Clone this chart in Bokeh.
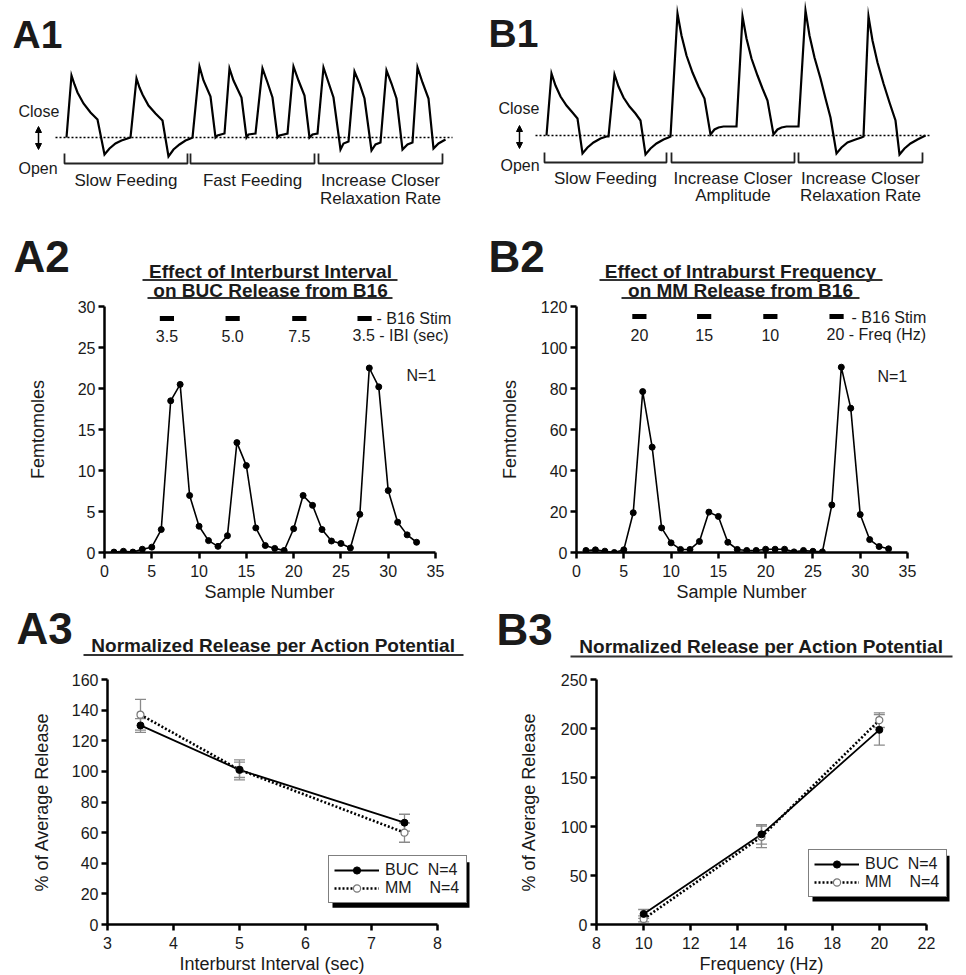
from bokeh.plotting import figure
from bokeh.layouts import column, row
from bokeh.models import (Range1d, FixedTicker, Legend, LegendItem, BoxAnnotation,
                          Label, Arrow, NormalHead, Title)
from bokeh.core.properties import value
from bokeh.embed import file_html
from bokeh.resources import INLINE

FONT = "Liberation Sans"
INK = "#1a1a1a"
GREY = "#8a8a8a"

# ---------------- data ----------------
# A1: schematic closer trace (slow feeding, fast feeding, faster closer relaxation)
# time in arbitrary units, amplitude above the resting (dotted) baseline
a1_time = [66, 71, 74, 77, 83, 90, 97, 104, 109, 115, 121, 127, 130,
           136, 139, 142, 148, 155, 162, 168, 173, 179, 185, 190, 192,
           199, 203, 210, 215, 217, 224,
           229, 233, 241, 246, 248, 255,
           262, 267, 272, 277, 279, 287,
           293, 298, 304, 309, 312, 317,
           323, 328, 333, 340, 343, 348,
           354, 359, 364, 371, 375, 380,
           386, 391, 396, 402, 407, 412,
           417, 422, 428, 433, 438, 445]
a1_amp = [0, 62, 53, 45, 34, 25, 18, -17, -11, -6, -3, -1, 0,
          59, 50, 43, 32, 24, 17, -19, -12, -7, -3, -1, 0,
          71, 57, 41, 0, 2, 4,
          69, 57, 40, 0, 3, 4,
          69, 55, 40, 0, 2, 4,
          71, 57, 42, 0, 3, 4,
          70, 55, 40, -12, -6, -4,
          66, 54, 39, -13, -7, -5,
          67, 54, 39, -12, -7, -5,
          70, 55, 39, -11, -6, -2]

# B1: schematic closer trace (slow feeding, larger closer amplitude, faster relaxation)
b1_time = [63, 68, 72, 77, 83, 89, 94, 99, 104, 110, 117, 123, 125,
           131, 135, 140, 146, 152, 157, 162, 167, 173, 180, 185, 187,
           194, 198, 203, 209, 215, 221, 227, 231, 235, 240, 253,
           259, 263, 268, 274, 279, 284, 290, 294, 298, 303, 315,
           322, 326, 331, 337, 342, 347, 353, 358, 364, 372, 378, 380,
           385, 389, 394, 400, 406, 412, 416, 421, 427, 434, 442]
b1_amp = [0, 62, 50, 39, 30, 23, 17, -18, -12, -7, -3, -1, -1,
          61, 49, 38, 29, 22, 15, -19, -13, -8, -4, -2, -1,
          122, 100, 80, 63, 49, 37, 1, 6, 8, 9, 9,
          119, 97, 77, 60, 47, 35, 1, 6, 8, 9, 9,
          125, 100, 78, 57, 37, 18, -18, -12, -7, -4, -2, -1,
          119, 95, 73, 52, 33, 15, -19, -13, -8, -4, 0]

a1_phases = ["Slow Feeding", "Fast Feeding", "Increase Closer|Relaxation Rate"]
b1_phases = ["Slow Feeding", "Increase Closer|Amplitude", "Increase Closer|Relaxation Rate"]

# A2 / B2: release per sample (femtomoles)
sample_no = list(range(1, 34))
buc_fmol = [0.05, 0.15, 0.05, 0.4, 0.65, 2.8, 18.5, 20.5, 6.95, 3.2, 1.45,
            0.75, 2.05, 13.4, 10.6, 3.0, 0.85, 0.5, 0.25, 2.9, 6.95, 5.75,
            2.8, 1.4, 1.1, 0.55, 4.65, 22.5, 20.2, 7.55, 3.7, 2.15, 1.25]
mm_fmol = [1.0, 1.3, 0.65, 0.0, 1.3, 19.4, 78.5, 51.4, 12.0, 4.7, 1.5,
           1.5, 5.4, 19.7, 17.6, 5.0, 1.5, 1.0, 1.0, 1.6, 1.6, 1.6,
           0.3, 1.0, 0.6, 0.3, 23.2, 90.4, 70.4, 18.5, 6.3, 2.9, 1.8]
a2_stim_sample = [6.6, 13.55, 20.6, 27.5]
a2_ibi_labels = ["3.5", "5.0", "7.5", "3.5"]
b2_stim_sample = [6.65, 13.5, 20.5, 27.5]
b2_freq_labels = ["20", "15", "10", "20"]
stim_duration = 1.5

# A3 / B3: normalized release (% of average), mean and s.e.m.
ibi_sec = [3.5, 5.0, 7.5]
buc_ibi = [130, 101, 66.5]
buc_ibi_err = [4.5, 5, 5.5]
mm_ibi = [137, 101, 60]
mm_ibi_err = [10, 6.5, 6.3]

freq_hz = [10, 15, 20]
buc_freq = [10.8, 92, 198.6]
buc_freq_err = [4.5, 10, 15.5]
mm_freq = [5.7, 89.5, 208.5]
mm_freq_err = [3, 11, 7.5]

a2_xticks = [0, 5, 10, 15, 20, 25, 30, 35]
a2_yticks = [0, 5, 10, 15, 20, 25, 30]
b2_yticks = [0, 20, 40, 60, 80, 100, 120]
a3_xticks = [3, 4, 5, 6, 7, 8]
a3_yticks = [0, 20, 40, 60, 80, 100, 120, 140, 160]
b3_xticks = [8, 10, 12, 14, 16, 18, 20, 22]
b3_yticks = [0, 50, 100, 150, 200, 250]


# ---------------- helpers ----------------
# text y positions below are given at the middle of the capitals
def txt(p, x, y, s, size, bold=False, align="left", color=INK):
    p.text(x=[x], y=[y], text=[s], text_font=value(FONT),
           text_font_size=f"{size}px", text_font_style="bold" if bold else "normal",
           text_align=align, text_baseline="alphabetic", text_color=color)


def blank_fig(w, h, xr, yr):
    p = figure(width=w, height=h, x_range=Range1d(*xr), y_range=Range1d(*yr),
               x_axis_type=None, y_axis_type=None, min_border=0,
               toolbar_location=None, output_backend="svg")
    p.outline_line_color = None
    p.background_fill_color = "white"
    p.border_fill_color = "white"
    return p


def data_fig(w, h, xr, yr, left, right, top, bottom):
    p = figure(width=w, height=h, x_range=Range1d(*xr), y_range=Range1d(*yr),
               min_border_left=left, min_border_right=right,
               min_border_top=top, min_border_bottom=bottom,
               toolbar_location=None, output_backend="svg")
    p.outline_line_color = None
    p.grid.visible = False
    p.background_fill_color = "white"
    p.border_fill_color = "white"
    return p


def style_axes(p, xticks, yticks, xbounds, xlabel, xlabel_off, ylabel, ystandoff):
    p.xaxis.ticker = FixedTicker(ticks=xticks)
    p.yaxis.ticker = FixedTicker(ticks=yticks)
    p.xaxis.bounds = xbounds
    p.yaxis.axis_label = ylabel
    p.axis.axis_line_width = 2.5
    p.axis.axis_line_color = "black"
    p.axis.major_tick_line_width = 2.5
    p.axis.major_tick_line_color = "black"
    p.axis.major_tick_out = 6
    p.axis.major_tick_in = 0
    p.axis.minor_tick_line_color = None
    p.axis.major_label_text_font = FONT
    p.axis.major_label_text_font_size = "16px"
    p.axis.major_label_text_color = INK
    p.yaxis.major_label_standoff = 3
    p.xaxis.major_label_standoff = 6
    p.axis.axis_label_text_font = FONT
    p.axis.axis_label_text_font_size = "18px"
    p.axis.axis_label_text_font_style = "normal"
    p.axis.axis_label_text_color = INK
    p.yaxis.axis_label_standoff = ystandoff
    # x label set as a title under the axis so it stays centred on the tick span
    p.add_layout(Title(text=xlabel, align="left", offset=xlabel_off, standoff=0,
                       text_font=FONT, text_font_size="18px", text_font_style="normal",
                       text_color=INK), "below")


def lbl(p, x, y, s, size=16, align="left", xoff=0):
    p.add_layout(Label(x=x, y=y, text=s, x_offset=xoff, text_font=FONT,
                       text_font_size=f"{size}px", text_color=INK,
                       text_align=align, text_baseline="alphabetic"))


# ---------------- row 1: schematic traces ----------------
def trace_panel(name, name_x, name_y, time, amp, base, phases, brackets, br_top,
                label_y, sub_y, close_xy, open_xy, arrow_x, arrow_y, dot_x):
    p = blank_fig(483, 210, (0, 483), (base - 210, base))

    def Y(px):
        return base - px

    txt(p, name_x, Y(name_y), name, 39, bold=True)
    p.line(dot_x, [0, 0], line_dash="2 2", line_width=1.6, line_color="black")
    p.line(time, amp, line_width=2.2, line_color="black", line_join="miter")
    xs = [[a, a, b, b] for a, b in brackets]
    ys = [[Y(br_top), Y(br_top + 10), Y(br_top + 10), Y(br_top)] for _ in brackets]
    p.multi_line(xs, ys, line_width=1.8, line_color="#222")
    for (a, b), ph in zip(brackets, phases):
        parts = ph.split("|")
        cx = (a + b) / 2
        txt(p, cx, Y(label_y), parts[0], 17, align="center")
        if len(parts) > 1:
            txt(p, cx, Y(sub_y), parts[1], 17, align="center")
    txt(p, close_xy[0], Y(close_xy[1]), "Close", 16)
    txt(p, open_xy[0], Y(open_xy[1]), "Open", 16)
    p.add_layout(Arrow(start=NormalHead(size=6, fill_color="black", line_color="black"),
                       end=NormalHead(size=6, fill_color="black", line_color="black"),
                       x_start=arrow_x, y_start=Y(arrow_y[1]), x_end=arrow_x, y_end=Y(arrow_y[0]),
                       line_width=1.5, line_color="black"))
    return p


a1 = trace_panel("A1", 12, 33.5, a1_time, a1_amp, 137, a1_phases,
                 [(64, 187), (190, 314), (318, 442)], 153, 179.5, 198,
                 (18, 110.5), (18, 167.5), 38, (126, 149), [55, 452])
b1 = trace_panel("B1", 5, 32.5, b1_time, b1_amp, 135, b1_phases,
                 [(61, 183), (188, 311), (315, 439)], 152, 178, 194.5,
                 (15, 108), (17, 165), 36, (125, 148), [52, 448])

# ---------------- header for row 2 ----------------
hdr2 = blank_fig(966, 90, (0, 966), (300, 210))
txt(hdr2, 13, 256, "A2", 44, bold=True)
txt(hdr2, 488, 255.5, "B2", 44, bold=True)
titles2 = [
    (270, 271, 279.5, 142, 397, "Effect of Interburst Interval"),
    (270, 289.5, 297.5, 147, 392, "on BUC Release from B16"),
    (740, 271, 279.5, 599, 882, "Effect of Intraburst Frequency"),
    (740, 289.5, 297.5, 621, 859, "on MM Release from B16"),
]
for cx, yc, yu, x0, x1, s in titles2:
    txt(hdr2, cx, yc, s, 19, bold=True, align="center")
    hdr2.segment(x0=[x0], y0=[yu], x1=[x1], y1=[yu], line_width=2, line_color="#333")


# ---------------- row 2: release time courses ----------------
def release_panel(left, right, xmax, ymax, yticks, values, stim, stim_labels, unit_text,
                  stim_y, lab_y, stim_txt_y, last_off, b16_off, n_xy, ystandoff):
    p = data_fig(483, 305, (0, xmax), (0, ymax), left, right, 6, 53)
    style_axes(p, a2_xticks, yticks, (0, 35), "Sample Number", 100, "Femtomoles", ystandoff)
    p.line(sample_no, values, line_width=1.6, line_color="black")
    p.scatter(sample_no, values, marker="circle", size=6, fill_color="black", line_color="black")
    p.rect(x=stim, y=[stim_y] * len(stim), width=stim_duration, height=5,
           height_units="screen", fill_color="black", line_color=None)
    p.text(x=stim[:3], y=[lab_y] * 3, text=stim_labels[:3], text_font=value(FONT),
           text_font_size="16px", text_align="center", text_baseline="alphabetic",
           text_color=INK)
    lbl(p, stim[3], lab_y, f"{stim_labels[3]} - {unit_text}", xoff=last_off)
    lbl(p, stim[3], stim_txt_y, "- B16 Stim", xoff=b16_off)
    lbl(p, n_xy[0], n_xy[1], "N=1", align="center")
    return p


a2 = release_panel(104, 25, (458 - 104) / 9.457, 30, a2_yticks, buc_fmol, a2_stim_sample,
                   a2_ibi_labels, "IBI (sec)", (552 - 318) / 8.2, (552 - 335) / 8.2,
                   (552 - 318) / 8.2, -12, 12, (33.5, (552 - 375) / 8.2), 27)
b2 = release_panel(93, 32, (934 - 576) / 9.457, 120, b2_yticks, mm_fmol, b2_stim_sample,
                   b2_freq_labels, "Freq (Hz)", (552 - 316) / 2.05, (552 - 334) / 2.05,
                   (552 - 317) / 2.05, -10, 15, (33.4, (552 - 376) / 2.05), 18)

# ---------------- header for row 3 ----------------
hdr3 = blank_fig(966, 53, (0, 966), (658, 605))
txt(hdr3, 16, 627.5, "A3", 44, bold=True)
txt(hdr3, 496, 629, "B3", 44, bold=True)
for cx, yc, yu, x0, x1 in [(273, 645, 654.5, 83, 463), (761, 646, 656, 570, 952)]:
    txt(hdr3, cx, yc, "Normalized Release per Action Potential", 19, bold=True, align="center")
    hdr3.segment(x0=[x0], y0=[yu], x1=[x1], y1=[yu], line_width=2, line_color="#333")


# ---------------- row 3: normalized release ----------------
def norm_panel(left, right, top, bottom, xr, xbounds, yr, xticks, yticks, xlabel, xlabel_off,
               x, buc, buc_e, mm, mm_e, legend_loc, shadow_box, ystandoff):
    p = data_fig(483, 317, xr, yr, left, right, top, bottom)
    style_axes(p, xticks, yticks, xbounds, xlabel, xlabel_off, "% of Average Release", ystandoff)
    for mean, err in ((mm, mm_e), (buc, buc_e)):
        lo = [m - e for m, e in zip(mean, err)]
        hi = [m + e for m, e in zip(mean, err)]
        p.segment(x0=x, y0=lo, x1=x, y1=hi, line_color=GREY, line_width=1.3)
        p.scatter(x + x, lo + hi, marker="dash", size=11, line_color=GREY, line_width=1.3)
    l_buc = p.line(x, buc, line_width=1.8, line_color="black")
    l_mm = p.line(x, mm, line_width=2.6, line_color="black", line_dash="2 2")
    s_mm = p.scatter(x, mm, marker="circle", size=7, fill_color="white", line_color="#777",
                     line_width=1.2)
    s_buc = p.scatter(x, buc, marker="circle", size=7, fill_color="black", line_color="black")
    l, r, t, b = shadow_box
    p.add_layout(BoxAnnotation(left=l, right=r, top=t, bottom=b, fill_color="black",
                               fill_alpha=1, line_color=None))
    legend = Legend(items=[LegendItem(label="BUC  N=4", renderers=[l_buc, s_buc]),
                           LegendItem(label="MM    N=4", renderers=[l_mm, s_mm])],
                    location=legend_loc, orientation="vertical",
                    border_line_color="black", border_line_width=1.5,
                    background_fill_color="white", background_fill_alpha=1,
                    padding=5, spacing=0, margin=0, glyph_width=45, glyph_height=18,
                    label_height=18, label_width=76, label_standoff=6, label_text_font=FONT,
                    label_text_font_size="16px", label_text_color=INK)
    p.add_layout(legend)
    return p


def a3x(px):
    return 3 + (px - 107) / 66


def a3y(py):
    return (924 - py) / 1.55


def b3x(px):
    return 8 + (px - 596) / 23.57


def b3y(py):
    return (925 - py) / 0.984


a3 = norm_panel(107, 9, 18, 51, (3, a3x(474)), (3, 8), (0, 160), a3_xticks, a3_yticks,
                "Interburst Interval (sec)", 72, ibi_sec, buc_ibi, buc_ibi_err, mm_ibi,
                mm_ibi_err, (221, 21), (a3x(332), a3x(469), a3y(861), a3y(907)), 17)
b3 = norm_panel(113, 10, 21, 50, (8, b3x(956)), (8, 22), (0, 250), b3_xticks, b3_yticks,
                "Frequency (Hz)", 103, freq_hz, buc_freq, buc_freq_err, mm_freq, mm_freq_err,
                (212, 27), (b3x(812), b3x(949), b3y(856), b3y(902)), 19)

layout = column(row(a1, b1), hdr2, row(a2, b2), hdr3, row(a3, b3))

open("out.html", "w").write(file_html(layout, INLINE))
